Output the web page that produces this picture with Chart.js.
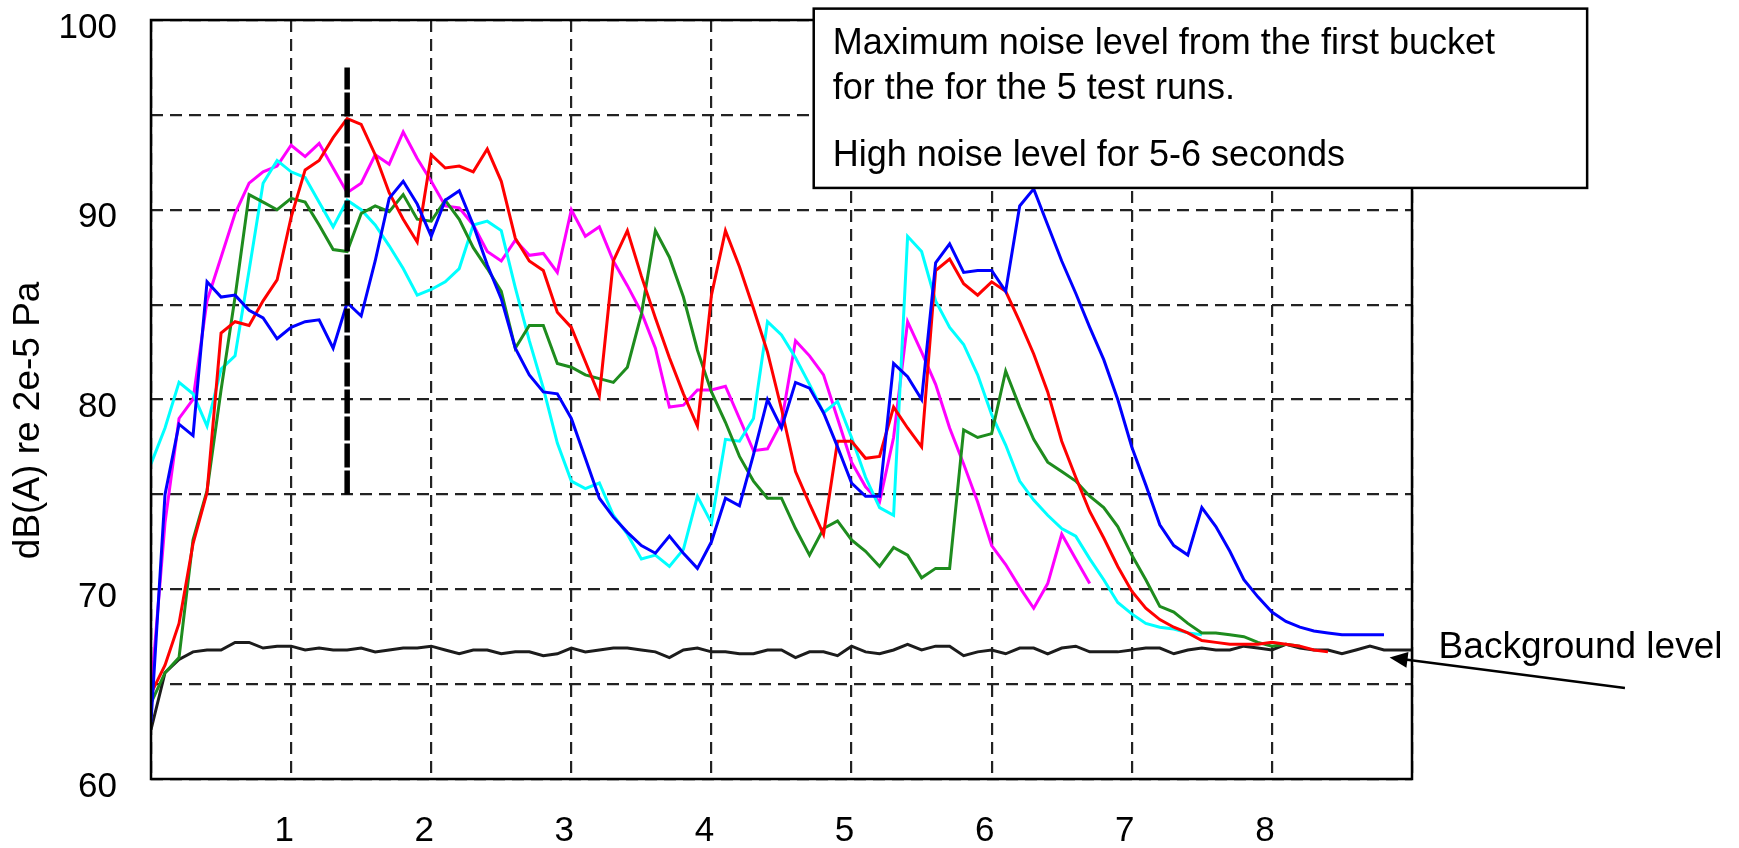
<!DOCTYPE html>
<html>
<head>
<meta charset="utf-8">
<script src="https://cdn.jsdelivr.net/npm/chart.js@4/dist/chart.umd.min.js"></script>
<style>
  html, body { margin: 0; padding: 0; background: #fff; }
  #wrap { width: 1739px; height: 848px; }
</style>
</head>
<body>
<div id="wrap"><canvas id="noise"></canvas></div>
<script>
// one level every 0.1 s
const seconds = Array.from({ length: 91 }, (_, i) => i / 10);

// dB(A) per run
const runBlue = [63.0, 75.0, 78.7, 78.1, 86.2, 85.4, 85.5, 84.7, 84.3, 83.2,
  83.8, 84.1, 84.2, 82.7, 85.1, 84.4, 87.3, 90.6, 91.5, 90.3,
  88.6, 90.5, 91.0, 89.2, 87.1, 85.3, 82.7, 81.3, 80.4, 80.3,
  79.0, 76.9, 74.8, 73.8, 73.0, 72.3, 71.9, 72.8, 71.9, 71.1,
  72.5, 74.8, 74.4, 77.1, 80.0, 78.5, 80.9, 80.6, 79.3, 77.5,
  75.6, 74.9, 74.9, 81.9, 81.2, 80.0, 87.2, 88.2, 86.7, 86.8,
  86.8, 85.7, 90.2, 91.1, 89.2, 87.3, 85.6, 83.8, 82.1, 80.0,
  77.5, 75.5, 73.4, 72.3, 71.8, 74.3, 73.3, 72.0, 70.5, 69.6,
  68.8, 68.3, 68.0, 67.8, 67.7, 67.6, 67.6, 67.6, 67.6];

const runRed = [64.5, 66.0, 68.2, 72.4, 75.1, 83.5, 84.1, 83.9, 85.2, 86.3,
  89.6, 92.1, 92.6, 93.8, 94.8, 94.5, 92.9, 90.9, 89.5, 88.3,
  92.9, 92.2, 92.3, 92.0, 93.2, 91.5, 88.5, 87.3, 86.8, 84.6,
  83.8, 82.0, 80.2, 87.3, 88.9, 86.5, 84.3, 82.2, 80.3, 78.6,
  85.5, 88.9, 87.0, 84.8, 82.5, 79.5, 76.2, 74.5, 72.9, 77.8,
  77.8, 76.9, 77.0, 79.6, 78.5, 77.5, 86.8, 87.4, 86.1, 85.5,
  86.2, 85.7, 84.1, 82.4, 80.4, 77.8, 75.9, 74.1, 72.7, 71.2,
  69.9, 69.0, 68.4, 68.0, 67.7, 67.3, 67.2, 67.1, 67.1, 67.1,
  67.2, 67.1, 67.0, 66.8, 66.7];

const runGreen = [64.0, 65.6, 66.4, 72.6, 75.2, 80.5, 85.4, 90.8, 90.4, 90.0,
  90.6, 90.4, 89.2, 87.9, 87.8, 89.8, 90.2, 89.9, 90.8, 89.5,
  89.4, 90.5, 89.5, 88.0, 86.9, 85.7, 82.7, 83.9, 83.9, 81.9,
  81.7, 81.3, 81.1, 80.9, 81.7, 84.5, 88.9, 87.5, 85.4, 82.6,
  80.4, 78.8, 77.0, 75.7, 74.8, 74.8, 73.2, 71.8, 73.2, 73.6,
  72.6, 72.0, 71.2, 72.2, 71.8, 70.6, 71.1, 71.1, 78.4, 78.0,
  78.2, 81.5, 79.6, 77.9, 76.7, 76.2, 75.7, 74.9, 74.3, 73.3,
  71.8, 70.5, 69.1, 68.8, 68.2, 67.7, 67.7, 67.6, 67.5, 67.2,
  67.0, 67.1, 67.0];

const runMagenta = [64.6, 73.5, 79.0, 80.0, 85.2, 87.5, 89.8, 91.4, 92.0, 92.3,
  93.4, 92.8, 93.5, 92.2, 90.9, 91.4, 92.9, 92.4, 94.1, 92.7,
  91.5, 90.2, 90.1, 89.2, 87.8, 87.3, 88.4, 87.6, 87.7, 86.7,
  90.0, 88.6, 89.1, 87.3, 86.0, 84.6, 82.7, 79.6, 79.7, 80.5,
  80.5, 80.7, 79.0, 77.3, 77.4, 78.8, 83.1, 82.3, 81.3, 79.0,
  76.7, 75.4, 74.6, 78.0, 84.1, 82.5, 80.8, 78.5, 76.6, 74.6,
  72.3, 71.3, 70.1, 69.0, 70.3, 72.9, 71.6, 70.3];

const runCyan = [76.6, 78.5, 80.9, 80.3, 78.6, 81.6, 82.3, 86.8, 91.4, 92.6,
  92.0, 91.7, 90.4, 89.1, 90.5, 90.0, 89.2, 88.1, 86.9, 85.5,
  85.8, 86.2, 86.9, 89.2, 89.4, 88.9, 85.9, 83.1, 80.6, 77.7,
  75.7, 75.3, 75.6, 73.9, 72.9, 71.6, 71.8, 71.2, 72.1, 74.9,
  73.5, 77.9, 77.8, 79.0, 84.1, 83.4, 82.2, 80.8, 79.3, 79.9,
  78.0, 75.9, 74.3, 73.9, 88.6, 87.8, 85.2, 83.8, 82.9, 81.3,
  79.2, 77.6, 75.7, 74.7, 73.9, 73.2, 72.8, 71.6, 70.5, 69.3,
  68.7, 68.2, 68.0, 67.9, 67.7, 67.6];

const background = [62.6, 65.6, 66.3, 66.7, 66.8, 66.8, 67.2, 67.2, 66.9, 67.0,
  67.0, 66.8, 66.9, 66.8, 66.8, 66.9, 66.7, 66.8, 66.9, 66.9,
  67.0, 66.8, 66.6, 66.8, 66.8, 66.6, 66.7, 66.7, 66.5, 66.6,
  66.9, 66.7, 66.8, 66.9, 66.9, 66.8, 66.7, 66.4, 66.8, 66.9,
  66.7, 66.7, 66.6, 66.6, 66.8, 66.8, 66.4, 66.7, 66.7, 66.5,
  67.0, 66.7, 66.6, 66.8, 67.1, 66.8, 67.0, 67.0, 66.5, 66.7,
  66.8, 66.6, 66.9, 66.9, 66.6, 66.9, 67.0, 66.7, 66.7, 66.7,
  66.8, 66.9, 66.9, 66.6, 66.8, 66.9, 66.8, 66.8, 67.0, 66.9,
  66.8, 67.1, 66.9, 66.8, 66.8, 66.6, 66.8, 67.0, 66.8, 66.8,
  66.8];

// peak marker at 1.4 s
const markerTime = 1.4;
const markerLevels = [75, 97.5];

const yTitle = 'dB(A) re 2e-5 Pa';
const noteLines = [
  'Maximum noise level from the first bucket',
  'for the for the 5 test runs.',
  'High noise level for 5-6 seconds'
];
const backgroundNote = 'Background level';

const FONT = "'Liberation Sans', Arial, sans-serif";
Chart.defaults.font.family = FONT;
Chart.defaults.color = '#000';

function toPoints(levels) {
  return levels.map((v, i) => ({ x: seconds[i], y: v }));
}

function run(levels, colour) {
  return {
    data: toPoints(levels),
    borderColor: colour,
    borderWidth: 3,
    pointRadius: 0,
    tension: 0,
    fill: false
  };
}

const notes = {
  id: 'notes',
  beforeDraw(chart) {
    const ctx = chart.ctx;
    ctx.save();
    ctx.fillStyle = '#fff';
    ctx.fillRect(0, 0, chart.width, chart.height);
    ctx.restore();
  },
  afterDraw(chart) {
    const { ctx, chartArea: a, scales: { x, y } } = chart;
    ctx.save();

    // solid frame round the plot
    ctx.strokeStyle = '#000';
    ctx.lineWidth = 2.5;
    ctx.strokeRect(a.left, a.top, a.right - a.left, a.bottom - a.top);

    // y title, sits a bit below the middle of the axis
    ctx.save();
    ctx.translate(29, y.getPixelForValue(78.9));
    ctx.rotate(-Math.PI / 2);
    ctx.font = '37px ' + FONT;
    ctx.fillStyle = '#000';
    ctx.textAlign = 'center';
    ctx.textBaseline = 'middle';
    ctx.fillText(yTitle, 0, 0);
    ctx.restore();

    // text box top right
    const bx1 = x.getPixelForValue(4.73), bx2 = x.getPixelForValue(10.25);
    const by1 = y.getPixelForValue(100.6), by2 = y.getPixelForValue(91.15);
    ctx.fillStyle = '#fff';
    ctx.fillRect(bx1, by1, bx2 - bx1, by2 - by1);
    ctx.strokeRect(bx1, by1, bx2 - bx1, by2 - by1);
    ctx.fillStyle = '#000';
    ctx.font = '36px ' + FONT;
    ctx.textBaseline = 'alphabetic';
    ctx.fillText(noteLines[0], bx1 + 19, by1 + 45);
    ctx.fillText(noteLines[1], bx1 + 19, by1 + 90);
    ctx.fillText(noteLines[2], bx1 + 19, by1 + 157);

    // arrow to the background line
    const tipX = x.getPixelForValue(8.84), tipY = y.getPixelForValue(66.4);
    const tailX = x.getPixelForValue(10.52), tailY = y.getPixelForValue(64.8);
    const ang = Math.atan2(tipY - tailY, tipX - tailX);
    ctx.lineWidth = 2.5;
    ctx.beginPath();
    ctx.moveTo(tailX, tailY);
    ctx.lineTo(tipX - 12 * Math.cos(ang), tipY - 12 * Math.sin(ang));
    ctx.stroke();
    ctx.beginPath();
    ctx.moveTo(tipX, tipY);
    ctx.lineTo(tipX - 18 * Math.cos(ang) + 8 * Math.sin(ang), tipY - 18 * Math.sin(ang) - 8 * Math.cos(ang));
    ctx.lineTo(tipX - 18 * Math.cos(ang) - 8 * Math.sin(ang), tipY - 18 * Math.sin(ang) + 8 * Math.cos(ang));
    ctx.closePath();
    ctx.fill();

    ctx.font = '37px ' + FONT;
    ctx.fillText(backgroundNote, x.getPixelForValue(9.19), y.getPixelForValue(66.38));
    ctx.restore();
  }
};

new Chart(document.getElementById('noise'), {
  type: 'line',
  data: {
    datasets: [
      {
        data: markerLevels.map(v => ({ x: markerTime, y: v })),
        borderColor: '#000',
        borderWidth: 5.5,
        borderDash: [24, 3],
        pointRadius: 0
      },
      run(runBlue, '#0000ff'),
      run(runRed, '#ff0000'),
      run(runGreen, '#1e8c1e'),
      run(runCyan, '#00ffff'),
      run(runMagenta, '#ff00ff'),
      run(background, '#1c1c1c')
    ]
  },
  options: {
    responsive: true,
    maintainAspectRatio: false,
    animation: false,
    layout: { padding: { top: 20, right: 327, bottom: 0, left: 0 } },
    plugins: {
      legend: { display: false },
      tooltip: { enabled: false }
    },
    scales: {
      x: {
        type: 'linear',
        min: 0,
        max: 9,
        afterFit: s => { s.height = 69; s.paddingLeft = 0; s.paddingRight = 0; },
        grid: { color: '#222', lineWidth: 2.2, drawTicks: false },
        border: { display: false, dash: [12, 7] },
        ticks: {
          stepSize: 1,
          autoSkip: false,
          maxRotation: 0,
          padding: 31,
          labelOffset: -7,
          font: { size: 35 },
          callback: v => (v >= 1 && v <= 8 ? v : '')
        }
      },
      y: {
        min: 60,
        max: 100,
        afterFit: s => { s.width = 151; s.paddingTop = 0; s.paddingBottom = 0; },
        grid: { color: '#222', lineWidth: 2.2, drawTicks: false },
        border: { display: false, dash: [12, 7] },
        ticks: {
          stepSize: 5,
          padding: 34,
          labelOffset: 8,
          font: { size: 35 },
          callback: v => (v % 10 === 0 ? v : '')
        }
      }
    }
  },
  plugins: [notes]
});
</script>
</body>
</html>
